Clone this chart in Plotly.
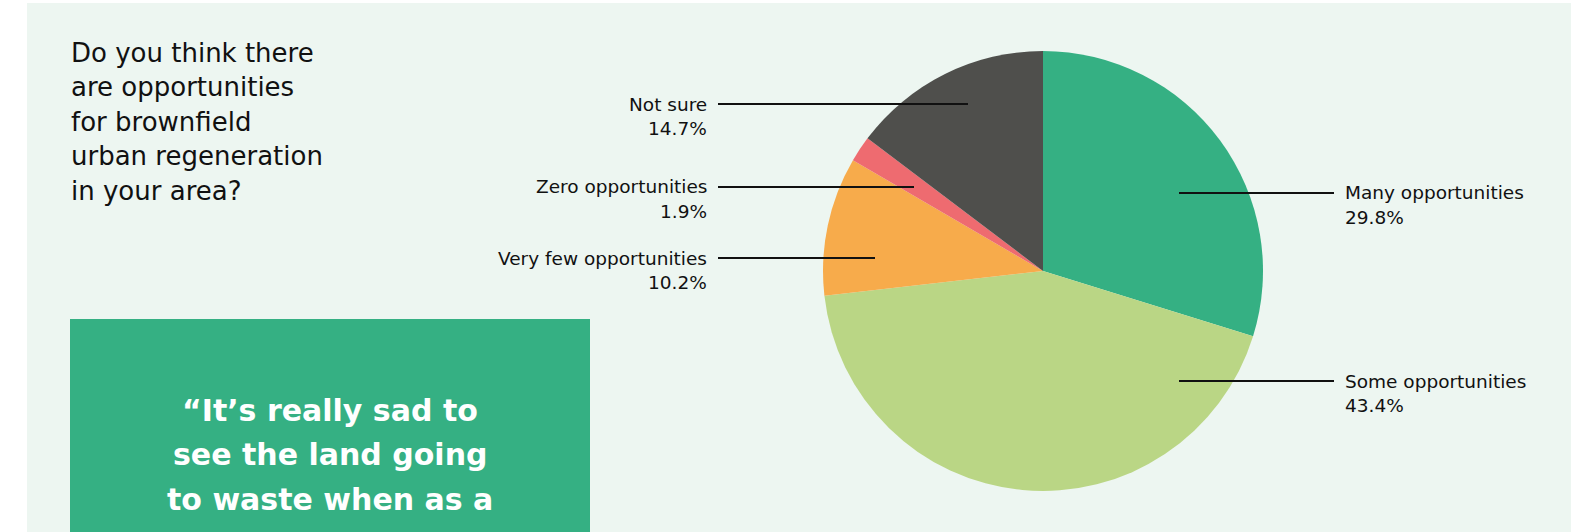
import plotly.graph_objects as go

W, H = 1587, 532

categories = ["Many opportunities", "Some opportunities", "Very few opportunities",
              "Zero opportunities", "Not sure"]
values = [29.8, 43.4, 10.2, 1.9, 14.7]
colors = ["#35B083", "#BAD685", "#F7AB4B", "#EE6B70", "#4F4F4C"]

title_lines = ["Do you think there", "are opportunities", "for brownfield",
               "urban regeneration", "in your area?"]
quote_lines = ["\u201cIt\u2019s really sad to", "see the land going", "to waste when as a"]

FONT = "DejaVu Sans"
INK = "#111111"

def px(x):
    return x / W

def py(y):
    return 1 - y / H

# pie geometry (pixels)
cx, cy, r = 1043, 271, 220

fig = go.Figure()
fig.add_trace(go.Pie(
    labels=categories, values=values, sort=False, direction="clockwise",
    rotation=0, marker=dict(colors=colors, line=dict(width=0)),
    textinfo="none", hoverinfo="label+percent", showlegend=False,
    domain=dict(x=[px(cx - r), px(cx + r)], y=[py(cy + r), py(cy - r)]),
))

shapes = [
    dict(type="rect", xref="paper", yref="paper", x0=px(27), x1=px(1571),
         y0=py(540), y1=py(3), fillcolor="#EDF6F1", line=dict(width=0), layer="below"),
    dict(type="rect", xref="paper", yref="paper", x0=px(70), x1=px(590),
         y0=py(540), y1=py(319), fillcolor="#35B083", line=dict(width=0), layer="below"),
]

# label leader lines: (label index, side, line y, inner x, outer x)
leaders = {
    4: ("left", 104, 968, 718),
    3: ("left", 187, 914, 718),
    2: ("left", 258, 875, 718),
    0: ("right", 193, 1179, 1334),
    1: ("right", 381, 1179, 1334),
}

annotations = []

def add_text(x, y, text, anchor, size, color=INK, weight="normal"):
    annotations.append(dict(x=px(x), y=py(y), xref="paper", yref="paper",
                            text=text, showarrow=False, xanchor=anchor, yanchor="middle",
                            font=dict(family=FONT, size=size, color=color, weight=weight)))

for i, (side, ly, xin, xout) in leaders.items():
    shapes.append(dict(type="line", xref="paper", yref="paper",
                       x0=px(xin), x1=px(xout), y0=py(ly), y1=py(ly),
                       line=dict(color=INK, width=2)))
    if side == "left":
        add_text(xout - 9, ly, categories[i], "right", 18.5)
        add_text(xout - 9, ly + 24, f"{values[i]:.1f}%", "right", 18.5)
    else:
        add_text(xout + 9, ly, categories[i], "left", 18.5)
        add_text(xout + 9, ly + 24, f"{values[i]:.1f}%", "left", 18.5)

for k, line in enumerate(title_lines):
    add_text(69, 53 + 34.4 * k, line, "left", 26)

for k, line in enumerate(quote_lines):
    add_text(330, 410 + 44.5 * k, line, "center", 30, color="#FFFFFF", weight="bold")

fig.update_layout(
    width=W, height=H, margin=dict(l=0, r=0, t=0, b=0),
    paper_bgcolor="#FFFFFF", plot_bgcolor="#FFFFFF",
    shapes=shapes, annotations=annotations,
)

fig.write_html("out.html", config={"displayModeBar": False},
               post_script="document.body.style.margin='0';document.body.style.overflow='hidden';")
